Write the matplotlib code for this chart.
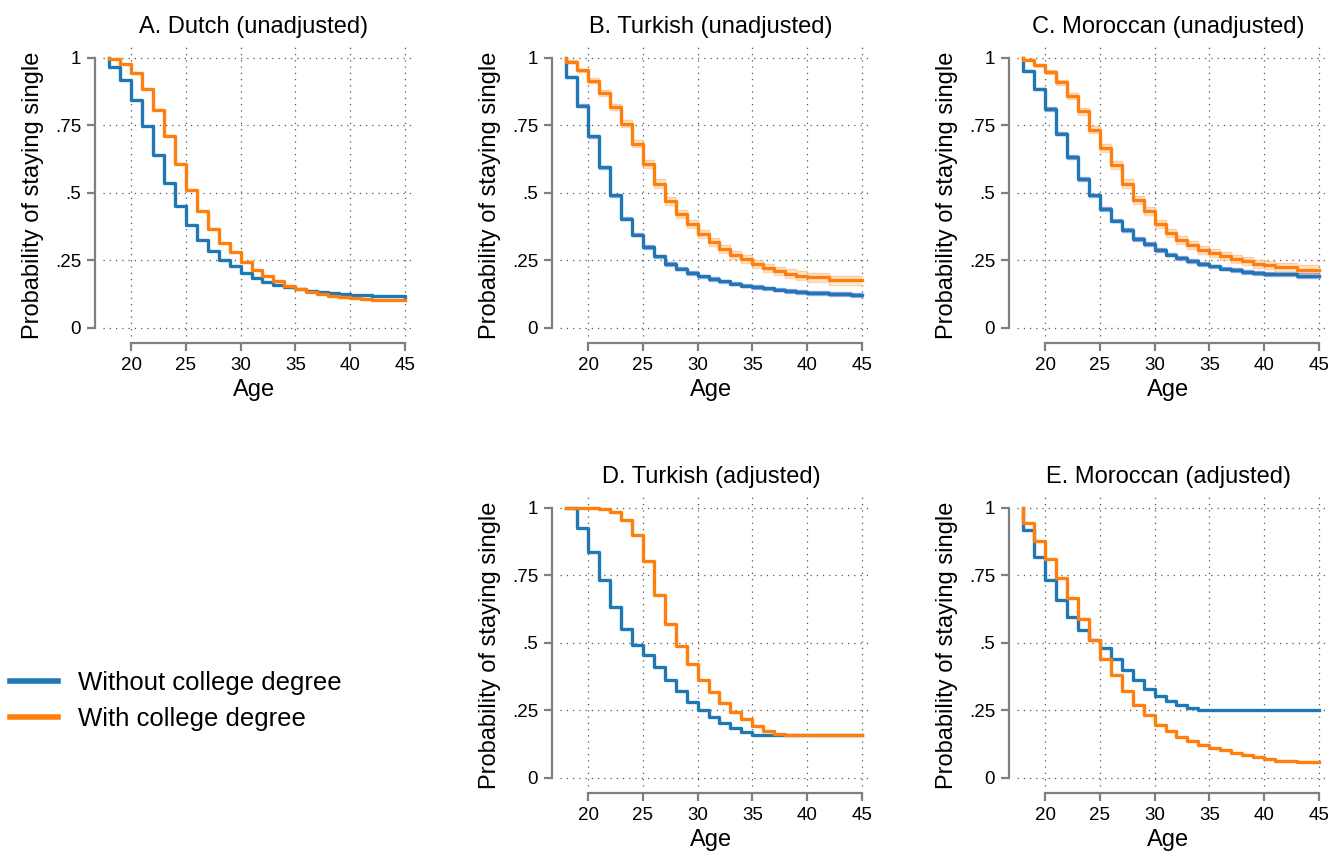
import numpy as np
import matplotlib.pyplot as plt

plt.rcParams['font.family'] = ['Liberation Sans', 'DejaVu Sans']

# Ages at which survival steps (value holds from age to age+1)
ages = np.arange(18, 46)

# A. Dutch (unadjusted)
dutch_no = [0.965, 0.917, 0.844, 0.747, 0.640, 0.537, 0.450, 0.383, 0.327, 0.286,
            0.253, 0.228, 0.204, 0.185, 0.170, 0.160, 0.152, 0.144, 0.138, 0.133,
            0.129, 0.126, 0.123, 0.121, 0.119, 0.118, 0.117, 0.116]
dutch_yes = [0.995, 0.978, 0.944, 0.886, 0.809, 0.710, 0.609, 0.512, 0.432, 0.367,
             0.315, 0.281, 0.243, 0.216, 0.191, 0.173, 0.157, 0.144, 0.135, 0.126,
             0.120, 0.115, 0.111, 0.107, 0.105, 0.104, 0.102, 0.102]

# B. Turkish (unadjusted)
turk_no = [0.930, 0.823, 0.710, 0.595, 0.491, 0.405, 0.346, 0.300, 0.265, 0.237,
           0.219, 0.204, 0.191, 0.181, 0.173, 0.164, 0.157, 0.152, 0.147, 0.142,
           0.137, 0.133, 0.130, 0.129, 0.127, 0.127, 0.123, 0.123]
turk_yes = [0.986, 0.954, 0.916, 0.870, 0.819, 0.757, 0.683, 0.607, 0.535, 0.469,
            0.423, 0.385, 0.348, 0.320, 0.293, 0.269, 0.257, 0.237, 0.221, 0.212,
            0.201, 0.194, 0.188, 0.188, 0.177, 0.177, 0.177, 0.177]
turk_no_ci = [0.004, 0.005, 0.006, 0.006, 0.006, 0.006, 0.006, 0.006, 0.006, 0.006,
              0.006, 0.006, 0.006, 0.006, 0.006, 0.006, 0.006, 0.006, 0.006, 0.006,
              0.006, 0.006, 0.007, 0.007, 0.007, 0.007, 0.007, 0.007]
turk_yes_ci = [0.005, 0.007, 0.009, 0.011, 0.012, 0.013, 0.014, 0.015, 0.015, 0.015,
               0.015, 0.015, 0.015, 0.015, 0.015, 0.015, 0.015, 0.015, 0.015, 0.015,
               0.016, 0.016, 0.016, 0.016, 0.017, 0.017, 0.017, 0.017]

# C. Moroccan (unadjusted)
mor_no = [0.953, 0.885, 0.811, 0.720, 0.632, 0.552, 0.491, 0.441, 0.398, 0.364,
          0.331, 0.311, 0.288, 0.272, 0.259, 0.249, 0.238, 0.228, 0.220, 0.214,
          0.207, 0.204, 0.200, 0.200, 0.200, 0.194, 0.194, 0.194]
mor_yes = [0.991, 0.973, 0.948, 0.910, 0.860, 0.802, 0.735, 0.667, 0.602, 0.535,
           0.475, 0.432, 0.386, 0.352, 0.327, 0.309, 0.290, 0.278, 0.265, 0.256,
           0.247, 0.238, 0.232, 0.225, 0.225, 0.216, 0.216, 0.216]
mor_no_ci = [0.004, 0.005, 0.006, 0.007, 0.007, 0.007, 0.007, 0.007, 0.007, 0.007,
             0.007, 0.007, 0.007, 0.007, 0.007, 0.007, 0.007, 0.007, 0.007, 0.007,
             0.007, 0.007, 0.008, 0.008, 0.008, 0.008, 0.008, 0.008]
mor_yes_ci = [0.004, 0.006, 0.008, 0.010, 0.012, 0.013, 0.014, 0.015, 0.015, 0.015,
              0.015, 0.015, 0.015, 0.015, 0.015, 0.015, 0.015, 0.015, 0.015, 0.015,
              0.015, 0.015, 0.015, 0.016, 0.016, 0.016, 0.016, 0.016]

# D. Turkish (adjusted)
turk_adj_no = [1.000, 0.926, 0.836, 0.735, 0.633, 0.553, 0.494, 0.454, 0.411, 0.364,
               0.321, 0.281, 0.251, 0.225, 0.204, 0.185, 0.169, 0.160, 0.158, 0.158,
               0.158, 0.158, 0.158, 0.158, 0.158, 0.158, 0.158, 0.158]
turk_adj_yes = [1.000, 1.000, 1.000, 0.995, 0.985, 0.954, 0.900, 0.802, 0.679, 0.570,
                0.490, 0.423, 0.364, 0.317, 0.278, 0.243, 0.219, 0.194, 0.175, 0.163,
                0.158, 0.158, 0.158, 0.158, 0.158, 0.158, 0.158, 0.158]

# E. Moroccan (adjusted)
mor_adj_no = [0.920, 0.819, 0.735, 0.660, 0.596, 0.549, 0.512, 0.481, 0.442, 0.401,
              0.364, 0.331, 0.302, 0.284, 0.269, 0.259, 0.253, 0.251, 0.250, 0.250,
              0.250, 0.250, 0.250, 0.250, 0.250, 0.250, 0.250, 0.250]
mor_adj_yes = [0.944, 0.879, 0.812, 0.741, 0.667, 0.589, 0.512, 0.442, 0.380, 0.321,
               0.272, 0.232, 0.198, 0.173, 0.152, 0.136, 0.121, 0.111, 0.102, 0.093,
               0.084, 0.077, 0.070, 0.064, 0.062, 0.058, 0.058, 0.058]

titles = ['A. Dutch (unadjusted)', 'B. Turkish (unadjusted)', 'C. Moroccan (unadjusted)',
          'D. Turkish (adjusted)', 'E. Moroccan (adjusted)']
labels = ['Without college degree', 'With college degree']

BLUE = '#1f77b4'
ORANGE = '#ff7f0e'
GRAY = '#7f7f7f'

W, H = 1328, 855
fig = plt.figure(figsize=(W/100, H/100), dpi=100)


def make_ax(left, top, w=318, h=296):
    return fig.add_axes([left/W, 1 - (top + h)/H, w/W, h/H])


def step_xy(vals):
    return np.r_[18, ages], np.r_[1.0, vals]


def band(ax, vals, ci, color):
    v = np.array(vals)
    c = np.array(ci)
    x = np.r_[ages, 45]
    lo = np.r_[v - c, v[-1] - c[-1]]
    hi = np.r_[v + c, v[-1] + c[-1]]
    ax.fill_between(x, lo, hi, step='post', color=color, alpha=0.35, lw=0)
    ax.step(x, lo, where='post', color=color, lw=1.0, alpha=0.6)
    ax.step(x, hi, where='post', color=color, lw=1.0, alpha=0.6)


def style(ax, title):
    ax.set_xlim(16.7, 45.75)
    ax.set_ylim(-0.0556, 1.0407)
    for s in ['top', 'right']:
        ax.spines[s].set_visible(False)
    for s in ['left', 'bottom']:
        ax.spines[s].set_color(GRAY)
        ax.spines[s].set_linewidth(1.6)
    ax.spines['left'].set_bounds(0, 1)
    ax.spines['bottom'].set_bounds(20, 45)
    xt = [20, 25, 30, 35, 40, 45]
    yt = [0, 0.25, 0.5, 0.75, 1]
    ax.set_xticks(xt)
    ax.set_yticks(yt)
    ax.set_yticklabels(['0', '.25', '.5', '.75', '1'])
    ax.tick_params(axis='both', colors=GRAY, labelcolor='black', labelsize=13.5,
                   length=6, width=1.6, pad=4)
    # dotted grid, drawn inside the plotting region like Stata
    ax.hlines(yt, 17.4, 45.8, colors='#555555', linestyles=(0, (1, 4)), lw=0.9, zorder=0)
    ax.vlines(xt, -0.028, 1.04, colors='#555555', linestyles=(0, (1, 4)), lw=0.9, zorder=0)
    ax.set_xlabel('Age', fontsize=17, labelpad=4)
    ax.set_ylabel('Probability of staying single', fontsize=17, labelpad=8)
    ax.set_title(title, fontsize=17, pad=10)


axA = make_ax(95, 47)
axB = make_ax(552, 47)
axC = make_ax(1009, 47)
axD = make_ax(552, 497)
axE = make_ax(1009, 497)

band(axB, turk_no, turk_no_ci, '#7b7be0')
band(axB, turk_yes, turk_yes_ci, '#fdb97a')
band(axC, mor_no, mor_no_ci, '#7b7be0')
band(axC, mor_yes, mor_yes_ci, '#fdb97a')

series = [(axA, dutch_no, dutch_yes), (axB, turk_no, turk_yes), (axC, mor_no, mor_yes),
          (axD, turk_adj_no, turk_adj_yes), (axE, mor_adj_no, mor_adj_yes)]
for (ax, no, yes), t in zip(series, titles):
    x, y = step_xy(no)
    ax.step(x, y, where='post', color=BLUE, lw=2.4, label=labels[0])
    x, y = step_xy(yes)
    ax.step(x, y, where='post', color=ORANGE, lw=2.4, label=labels[1])
    style(ax, t)

handles, _ = axA.get_legend_handles_labels()
leg = fig.legend(handles, labels, loc='center left', bbox_to_anchor=(0.0, 1 - 701/H),
                 frameon=False, fontsize=18.5, handlelength=1.85, handletextpad=0.8,
                 labelspacing=0.5, borderaxespad=0, borderpad=0.4)
for h in leg.legend_handles:
    h.set_linewidth(4)

fig.savefig('out.png', dpi=100)
